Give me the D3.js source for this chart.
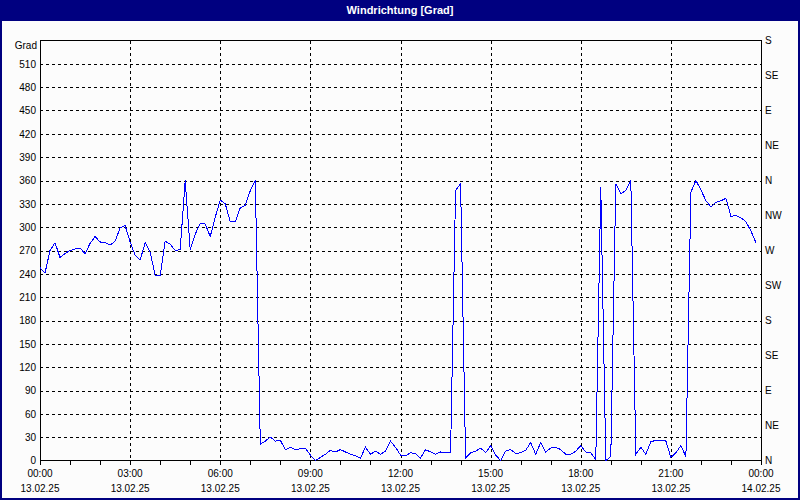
<!DOCTYPE html>
<html>
<head>
<meta charset="utf-8">
<script src="https://cdn.jsdelivr.net/npm/d3@7"></script>
<style>
  html, body { margin: 0; padding: 0; background: #fcfcfc; }
  svg { display: block; }
  text { font-family: "Liberation Sans", Arial, sans-serif; }
</style>
</head>
<body>
<svg id="chart" width="800" height="500"></svg>
<script>
// ---- data (10-minute samples, 13.02.25 00:00 .. 23:50) ----
const startTime = new Date(2025, 1, 13, 0, 0);
const endTime = new Date(2025, 1, 14, 0, 0);
const stepMinutes = 10;
const windDirection = [
  248, 241, 270, 280, 261, 266, 270, 272, 273, 266, 279, 288,
  281, 280, 277, 282, 299, 302, 281, 264, 258, 280, 268, 238,
  238, 282, 278, 270, 271, 360, 271, 291, 305, 304, 288, 313,
  335, 330, 307, 307, 325, 328, 347, 360, 21, 25, 30, 25,
  26, 14, 17, 14, 15, 16, 7, 0, 4, 8, 13, 11,
  14, 11, 8, 6, 3, 17, 8, 12, 8, 12, 25, 17,
  7, 6, 10, 9, 3, 14, 11, 8, 11, 10, 10, 347,
  356, 3, 10, 12, 16, 10, 19, 7, 0, 12, 14, 9,
  10, 13, 23, 8, 23, 11, 16, 17, 14, 8, 8, 12,
  19, 11, 10, 1, 352, 0, 5, 356, 343, 347, 360, 8,
  17, 8, 24, 26, 26, 25, 4, 10, 19, 5, 345, 360,
  348, 334, 326, 332, 334, 337, 314, 315, 312, 307, 295, 280
];
const leftTickValues = [0, 30, 60, 90, 120, 150, 180, 210, 240, 270, 300, 330, 360, 390, 420, 450, 480, 510];
const leftUnitLabel = "Grad";
const rightTickValues = [0, 45, 90, 135, 180, 225, 270, 315, 360, 405, 450, 495, 540];
const rightTickLabels = ["N", "NE", "E", "SE", "S", "SW", "W", "NW", "N", "NE", "E", "SE", "S"];
const timeLabels = ["00:00", "03:00", "06:00", "09:00", "12:00", "15:00", "18:00", "21:00", "00:00"];
const dateLabels = ["13.02.25", "13.02.25", "13.02.25", "13.02.25", "13.02.25", "13.02.25", "13.02.25", "13.02.25", "14.02.25"];
const title = "Windrichtung [Grad]";

const data = windDirection.map((v, i) => ({ t: d3.timeMinute.offset(startTime, i * stepMinutes), v }));

// ---- layout ----
const W = 800, H = 500;
const plot = { left: 40, right: 761, top: 40.5, bottom: 460.5 };
const svg = d3.select("#chart");

svg.append("rect").attr("x", 0).attr("y", 0).attr("width", W).attr("height", H).attr("fill", "#fcfcfc");
// title bar
svg.append("rect").attr("x", 0).attr("y", 0).attr("width", W).attr("height", 21).attr("fill", "#000080");
svg.append("text").attr("x", 400).attr("y", 14).attr("text-anchor", "middle")
  .attr("fill", "#ffffff").attr("font-size", 11).attr("font-weight", "bold").text(title);
// outer border
svg.append("rect").attr("x", 1).attr("y", 1).attr("width", W - 2).attr("height", H - 2)
  .attr("fill", "none").attr("stroke", "#000080").attr("stroke-width", 2);

const x = d3.scaleTime().domain([startTime, endTime]).range([plot.left, plot.right]);
const y = d3.scaleLinear().domain([0, 540]).range([plot.bottom, plot.top]);

// grid
const grid = svg.append("g").attr("shape-rendering", "crispEdges");
grid.selectAll("line.h").data(leftTickValues.filter(v => v > 0)).join("line")
  .attr("x1", plot.left).attr("x2", plot.right)
  .attr("y1", d => Math.round(y(d)) + 0.5).attr("y2", d => Math.round(y(d)) + 0.5)
  .attr("stroke", "#000").attr("stroke-dasharray", "3,3");
const majorTimes = d3.timeHour.every(3).range(startTime, d3.timeMinute.offset(endTime, 1));
grid.selectAll("line.v").data(majorTimes.slice(1, -1)).join("line")
  .attr("y1", plot.top).attr("y2", plot.bottom)
  .attr("x1", d => Math.round(x(d)) + 0.5).attr("x2", d => Math.round(x(d)) + 0.5)
  .attr("stroke", "#000").attr("stroke-dasharray", "3,3");

// frame
svg.append("rect").attr("x", plot.left + 0.5).attr("y", plot.top).attr("width", plot.right - plot.left)
  .attr("height", plot.bottom - plot.top).attr("fill", "none").attr("stroke", "#000")
  .attr("shape-rendering", "crispEdges");

// x axis minor ticks (hourly)
const xMinor = d3.axisBottom(x).ticks(d3.timeHour.every(1)).tickSize(4).tickFormat("");
svg.append("g").attr("transform", `translate(0,${plot.bottom})`).call(xMinor)
  .call(g => g.select(".domain").remove())
  .call(g => g.selectAll("line").attr("shape-rendering", "crispEdges"));

// x axis labels
const xLab = svg.append("g").attr("font-size", 10).attr("fill", "#000");
xLab.selectAll("text.time").data(majorTimes).join("text")
  .attr("x", d => x(d)).attr("y", 477).attr("text-anchor", "middle")
  .text((d, i) => timeLabels[i]);
xLab.selectAll("text.date").data(majorTimes).join("text")
  .attr("x", d => x(d)).attr("y", 492).attr("text-anchor", "middle")
  .text((d, i) => dateLabels[i]);

// left axis
const yLeft = d3.axisLeft(y).tickValues(leftTickValues).tickSize(0).tickPadding(4);
svg.append("g").attr("transform", `translate(${plot.left},0)`).call(yLeft)
  .call(g => g.select(".domain").remove())
  .call(g => g.selectAll("text").attr("font-size", 10).attr("font-family", "Liberation Sans, Arial, sans-serif").attr("fill", "#000"));
svg.append("text").attr("x", plot.left - 3).attr("y", y(540) + 8).attr("text-anchor", "end")
  .attr("font-size", 10).attr("fill", "#000").text(leftUnitLabel);

// right axis
const yRight = d3.axisRight(y).tickValues(rightTickValues).tickSize(0).tickPadding(4)
  .tickFormat((d, i) => rightTickLabels[i]);
svg.append("g").attr("transform", `translate(${plot.right},0)`).call(yRight)
  .call(g => g.select(".domain").remove())
  .call(g => g.selectAll("text").attr("font-size", 10).attr("font-family", "Liberation Sans, Arial, sans-serif").attr("fill", "#000"));

// line
const line = d3.line().x(d => x(d.t)).y(d => y(d.v));
svg.append("path").datum(data).attr("d", line)
  .attr("fill", "none").attr("stroke", "#0000ff").attr("stroke-width", 1)
  .attr("shape-rendering", "crispEdges");
</script>
</body>
</html>
